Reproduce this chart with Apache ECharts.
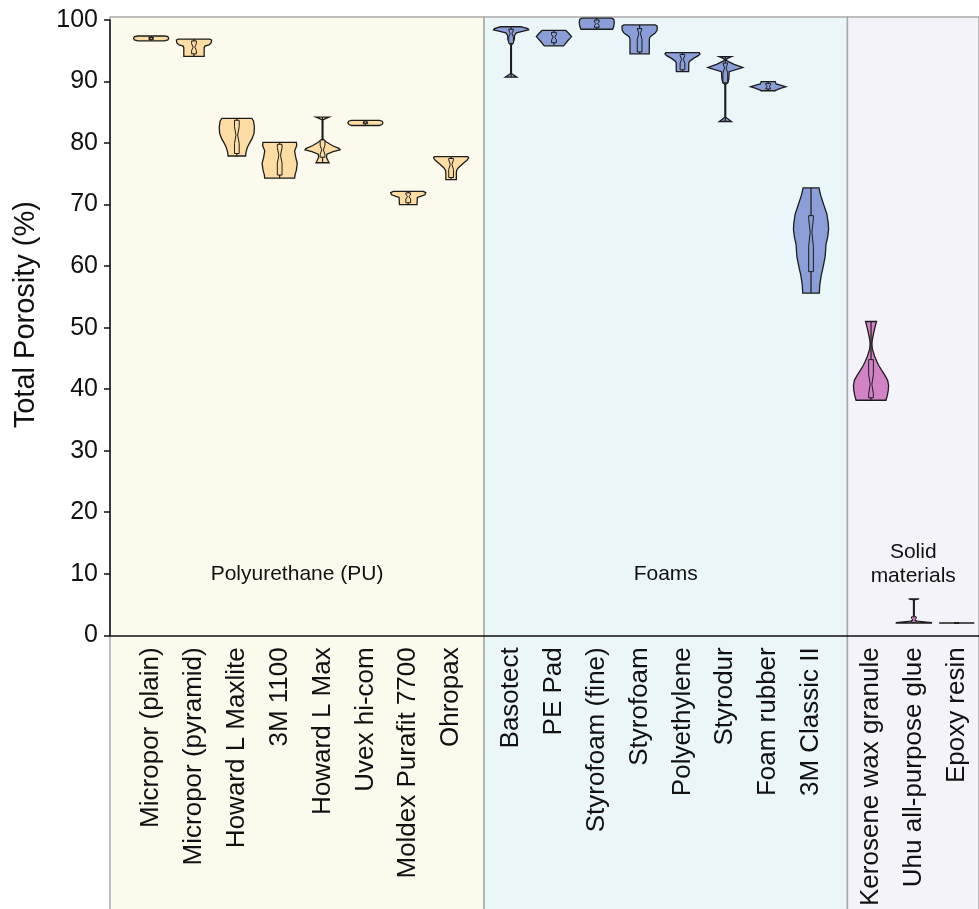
<!DOCTYPE html>
<html>
<head>
<meta charset="utf-8">
<script src="https://cdn.jsdelivr.net/npm/echarts@6/dist/echarts.min.js"></script>
<style>html,body{margin:0;padding:0;background:#fff}#chart{width:979px;height:909px}</style>
</head>
<body>
<div id="chart"></div>
<script>
// ---------------- DATA ----------------
const categories = ['Micropor (plain)','Micropor (pyramid)','Howard L Maxlite','3M 1100','Howard L Max','Uvex hi-com','Moldex Purafit 7700','Ohropax',
  'Basotect','PE Pad','Styrofoam (fine)','Styrofoam','Polyethylene','Styrodur','Foam rubber','3M Classic II',
  'Kerosene wax granule','Uhu all-purpose glue','Epoxy resin'];
const groupIndex = [0,0,0,0,0,0,0,0, 1,1,1,1,1,1,1,1, 2,2,2];
const groupNames = ['Polyurethane (PU)', 'Foams', 'Solid\nmaterials'];

const whiskerLow  = [96.6, 94.1, 77.9, 74.3, 76.8, 82.85, 70.0, 74.05, 90.7, 95.8, 98.5, 94.5, 91.6, 83.5, 88.5, 55.6, 38.2, 2.0, 2.0];
const boxQ1       = [96.85,94.5, 78.3, 74.8, 77.7, 83.15, 70.3, 74.4, 96.2, 96.3, 98.8, 94.8, 91.9, 89.8, 88.8, 59.1, 38.6, 2.1, 2.0];
const boxMedian   = [97.0, 95.6, 81.3, 78.0, 78.9, 83.3, 71.3, 76.5, 97.8, 97.2, 99.4, 97.8, 93.6, 92.2, 89.2, 65.5, 40.8, 2.5, 2.0];
const boxQ3       = [97.15,96.6, 83.7, 79.8, 80.5, 83.45, 71.9, 77.5, 98.5, 98.0, 100.0,98.6, 94.4, 93.0, 89.7, 68.2, 44.8, 3.0, 2.0];
const whiskerHigh = [97.4, 96.9, 84.0, 80.1, 84.2, 83.7, 72.15,77.8, 98.9, 98.3, 100.3,99.2, 94.7, 94.05,90.0, 72.7, 51.0, 5.9, 2.0];

// violin outlines: [value, relative half-width] from top to bottom
const violinProfiles = [
  [[97.4,0.75],[97.3,0.95],[97.0,1.0],[96.75,0.95],[96.6,0.75]],
  [[96.9,0.9],[96.75,1.0],[96.3,0.98],[95.95,0.85],[95.75,0.62],[95.5,0.58],[94.1,0.58]],
  [[84.0,0.85],[83.6,0.95],[82.6,1.0],[81.6,0.98],[80.8,0.88],[80.0,0.72],[79.3,0.6],[78.5,0.52],[77.9,0.5]],
  [[80.1,0.95],[79.6,0.97],[78.7,0.85],[77.6,0.92],[76.7,1.0],[75.6,0.95],[74.9,0.88],[74.3,0.85]],
  [[84.2,0.37],[84.0,0.2],[83.75,0.02],[80.6,0.02],[80.2,0.2],[79.6,0.55],[79.1,0.95],[78.9,1.0],[78.6,0.6],[78.2,0.25],[77.7,0.22],[77.2,0.3],[76.8,0.37]],
  [[83.7,0.8],[83.55,0.95],[83.3,1.0],[83.05,0.95],[82.85,0.8]],
  [[72.15,0.85],[71.95,1.0],[71.6,0.95],[71.35,0.7],[71.15,0.52],[70.0,0.5]],
  [[77.8,0.95],[77.6,1.0],[77.2,0.9],[76.6,0.65],[76.0,0.42],[75.6,0.32],[75.2,0.3],[74.05,0.3]],
  [[98.9,0.6],[98.6,0.95],[98.4,1.0],[98.2,0.7],[97.9,0.3],[97.5,0.2],[96.8,0.18],[96.3,0.12],[95.9,0.02],[91.3,0.02],[90.7,0.33]],
  [[98.3,0.68],[97.8,0.85],[97.3,1.0],[96.5,0.75],[95.8,0.55]],
  [[100.3,0.85],[100.1,0.97],[99.6,1.0],[99.2,0.98],[98.8,0.95],[98.5,0.9]],
  [[99.2,0.9],[99.0,1.0],[98.4,1.0],[97.9,0.9],[97.5,0.7],[97.2,0.58],[96.8,0.55],[94.5,0.55]],
  [[94.7,0.95],[94.5,1.0],[94.2,0.9],[93.8,0.65],[93.4,0.45],[93.1,0.36],[91.6,0.35]],
  [[94.05,0.35],[93.8,0.15],[93.55,0.02],[93.35,0.1],[92.8,0.5],[92.3,1.0],[92.0,0.7],[91.6,0.22],[90.5,0.2],[89.8,0.15],[89.5,0.02],[84.2,0.02],[83.5,0.35]],
  [[90.0,0.4],[89.8,0.42],[89.6,0.45],[89.4,0.7],[89.15,1.0],[88.9,0.7],[88.6,0.45],[88.5,0.4]],
  [[72.7,0.45],[71.5,0.55],[70.0,0.72],[68.5,0.9],[67.0,0.98],[66.0,1.0],[64.8,0.95],[63.5,0.85],[62.5,0.83],[61.5,0.8],[60.0,0.7],[58.5,0.58],[57.0,0.5],[55.6,0.47]],
  [[51.0,0.31],[50.0,0.22],[49.0,0.14],[48.0,0.07],[47.3,0.05],[46.5,0.08],[45.4,0.2],[44.5,0.33],[43.8,0.45],[43.0,0.62],[42.2,0.8],[41.4,0.95],[40.6,1.0],[39.8,0.98],[39.0,0.93],[38.2,0.85]],
  [[5.9,0.3],[5.75,0.02],[2.5,0.02],[2.3,0.2],[2.15,0.7],[2.05,1.0],[2.0,1.0]],
  [[2.0,1.0],[2.0,1.0]]
];

// ---------------- LAYOUT / STYLE ----------------
const FONT = "'Liberation Sans', Arial, Helvetica, sans-serif";
const GROUP_GAP = 0.4;
const xPos = categories.map((c, i) => i + GROUP_GAP * groupIndex[i]);
const X_MIN = -0.96, X_MAX = 19.32;
const groupStart = [X_MIN, 7.77, 16.25];
const groupEnd = [7.77, 16.25, X_MAX];
const groupLabelY = [10, 10, 11.6];
const regionFill = ['#fcfaed', '#eaf6f8', '#f4f3f9'];
const violinFill = ['#fddda4', '#8b9ed8', '#d283c5'];
const VIOLIN_HALF = 0.41;
const BOX_HALF = 0.055;

function renderRegion(params, api) {
  const g = api.value(0);
  const cs = params.coordSys;
  const x1 = api.coord([groupStart[g], 0])[0];
  const x2 = api.coord([groupEnd[g], 0])[0];
  const top = cs.y - 3;
  const bottom = api.getHeight() + 5;
  const lp = api.coord([(groupStart[g] + groupEnd[g]) / 2, groupLabelY[g]]);
  return {
    type: 'group',
    children: [
      { type: 'rect', shape: { x: x1, y: top, width: x2 - x1, height: bottom - top },
        style: { fill: regionFill[g], stroke: '#aaaaaa', lineWidth: 1.5 } },
      { type: 'text', style: { text: groupNames[g], x: lp[0], y: lp[1], align: 'center', verticalAlign: 'middle',
        fontSize: 21, fontFamily: FONT, fill: '#111', lineHeight: 24 } }
    ]
  };
}

function renderViolin(params, api) {
  const i = api.value(0);
  const x = xPos[i];
  const g = groupIndex[i];
  const cx = api.coord([x, 0])[0];
  const half = api.size([VIOLIN_HALF, 0])[0];
  const bh = api.size([BOX_HALF, 0])[0];
  const prof = violinProfiles[i];
  const yv = v => api.coord([x, v])[1];
  const pts = [];
  prof.forEach(([v, w]) => pts.push([cx + w * half, yv(v)]));
  prof.slice().reverse().forEach(([v, w]) => pts.push([cx - w * half, yv(v)]));
  const stroke = '#1c1c1c';
  const children = [
    { type: 'polygon', shape: { points: pts }, style: { fill: violinFill[g], stroke: stroke, lineWidth: 1.3 } }
  ];
  children.push({ type: 'line', shape: { x1: cx, y1: yv(boxQ3[i]), x2: cx, y2: yv(whiskerHigh[i]) }, style: { stroke: stroke, lineWidth: 1.2 } });
  children.push({ type: 'line', shape: { x1: cx, y1: yv(boxQ1[i]), x2: cx, y2: yv(whiskerLow[i]) }, style: { stroke: stroke, lineWidth: 1.2 } });
  const q1 = boxQ1[i], q3 = boxQ3[i], md = boxMedian[i];
  const nh = 0.25 * (q3 - q1);
  const nt = Math.min(q3, md + nh), nb = Math.max(q1, md - nh);
  const bpts = [
    [cx - bh, yv(q3)], [cx + bh, yv(q3)], [cx + bh, yv(nt)], [cx + bh * 0.35, yv(md)], [cx + bh, yv(nb)],
    [cx + bh, yv(q1)], [cx - bh, yv(q1)], [cx - bh, yv(nb)], [cx - bh * 0.35, yv(md)], [cx - bh, yv(nt)]
  ];
  children.push({ type: 'polygon', shape: { points: bpts }, style: { fill: violinFill[g], stroke: stroke, lineWidth: 1 } });
  return { type: 'group', children: children };
}

const chart = echarts.init(document.getElementById('chart'), null, { renderer: 'canvas' });
chart.setOption({
  animation: false,
  backgroundColor: '#ffffff',
  grid: { left: 110, right: 0, top: 20, bottom: 272, containLabel: false },
  xAxis: {
    type: 'value', min: X_MIN, max: X_MAX,
    splitLine: { show: false },
    axisTick: { show: false },
    axisLine: { show: true, onZero: false, lineStyle: { color: '#111', width: 1.5 } },
    axisLabel: {
      customValues: xPos,
      rotate: 90, margin: 12, fontSize: 26, color: '#111', fontFamily: FONT,
      formatter: function (v) {
        for (let k = 0; k < xPos.length; k++) if (Math.abs(xPos[k] - v) < 1e-6) return categories[k];
        return '';
      }
    }
  },
  yAxis: {
    type: 'value', min: 0, max: 100, interval: 10,
    name: 'Total Porosity (%)', nameLocation: 'middle', nameGap: 70, nameRotate: 90,
    nameTextStyle: { fontSize: 29, color: '#111', fontFamily: FONT, padding: [0, 0, 0, 26] },
    splitLine: { show: false },
    axisLine: { show: true, onZero: false, lineStyle: { color: '#111', width: 1.5 } },
    axisTick: { show: true, length: 6, lineStyle: { color: '#111', width: 1.5 } },
    axisLabel: { fontSize: 25, color: '#111', margin: 12, fontFamily: FONT }
  },
  series: [
    { type: 'custom', z: -1, clip: false, silent: true, renderItem: renderRegion,
      data: groupNames.map((n, g) => [g]) },
    { type: 'custom', z: 3, clip: false, silent: true, renderItem: renderViolin,
      data: categories.map((c, i) => [i]) }
  ]
});
</script>
</body>
</html>
